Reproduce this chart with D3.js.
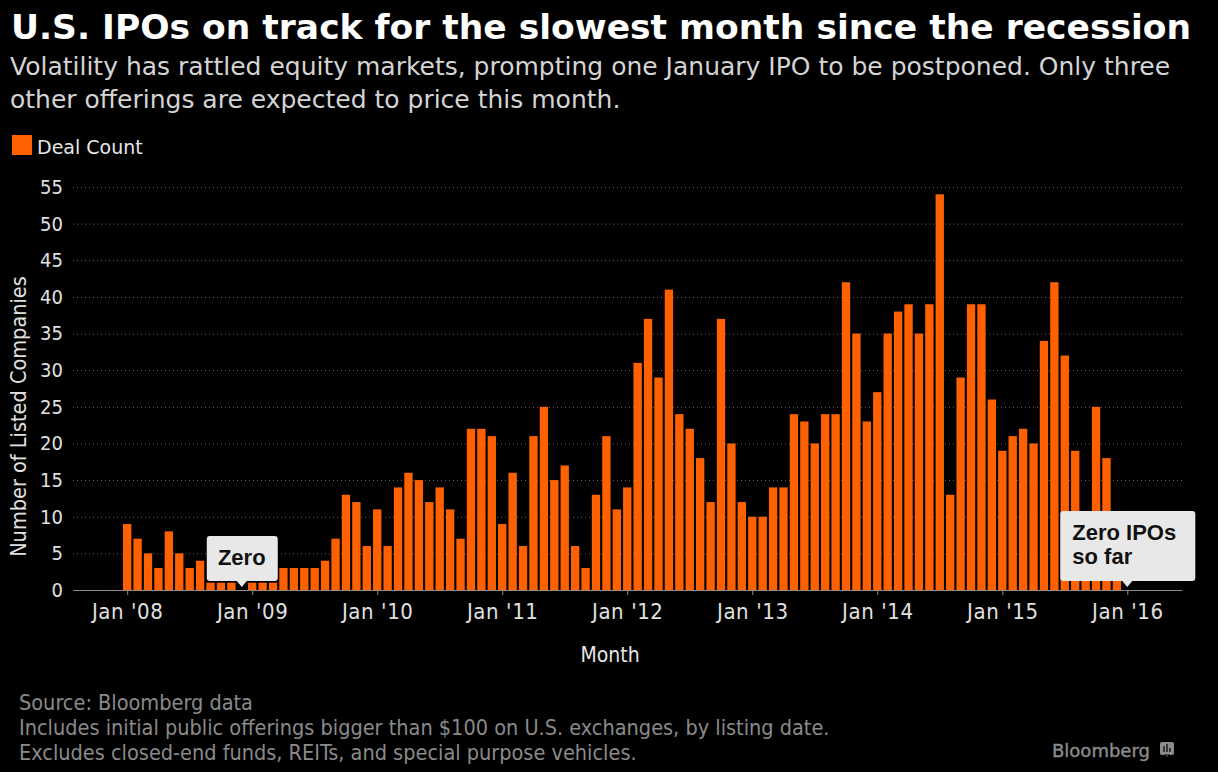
<!DOCTYPE html>
<html>
<head>
<meta charset="utf-8">
<script src="https://cdn.jsdelivr.net/npm/d3@7"></script>
<style>
    body { margin: 0; background: #000; overflow: hidden; }
    svg { display: block; }
</style>
</head>
<body>
<script>

const width = 1218;
const height = 772;

// monthly deal counts, Jan '08 .. Jan '16
const months = d3.range(97);
const dealCount = [
    9, 7, 5, 3, 8, 5, 3, 4, 1, 1, 1, 0,
    1, 1, 1, 3, 3, 3, 3, 4, 7, 13, 12, 6,
    11, 6, 14, 16, 15, 12, 14, 11, 7, 22, 22, 21,
    9, 16, 6, 21, 25, 15, 17, 6, 3, 13, 21, 11,
    14, 31, 37, 29, 41, 24, 22, 18, 12, 37, 20, 12,
    10, 10, 14, 14, 24, 23, 20, 24, 24, 42, 35, 23,
    27, 35, 38, 39, 35, 39, 54, 13, 29, 39, 39, 26,
    19, 21, 22, 20, 34, 42, 32, 19, 8, 25, 18, 7,
    0
];
const tickMonths = [0, 12, 24, 36, 48, 60, 72, 84, 96];
const tickLabels = ["Jan '08", "Jan '09", "Jan '10", "Jan '11", "Jan '12", "Jan '13", "Jan '14", "Jan '15", "Jan '16"];
const yTicks = [0, 5, 10, 15, 20, 25, 30, 35, 40, 45, 50, 55];

const subtitleLines = [
    "Volatility has rattled equity markets, prompting one January IPO to be postponed. Only three",
    "other offerings are expected to price this month."
];
const footLines = [
    "Source: Bloomberg data",
    "Includes initial public offerings bigger than $100 on U.S. exchanges, by listing date.",
    "Excludes closed-end funds, REITs, and special purpose vehicles."
];

const orange = '#ff6000';
const condensed = "'DejaVu Sans Condensed', 'DejaVu Sans', sans-serif";

let svg = d3.select('body').append('svg')
            .attr('width', width)
            .attr('height', height)
            .style('background', '#000');

// titles
svg.append('text')
    .attr('x', 11)
    .attr('y', 39)
    .attr('fill', '#fff')
    .style('font-family', "'DejaVu Sans', sans-serif")
    .style('font-weight', 'bold')
    .style('font-size', '34.5px')
    .text('U.S. IPOs on track for the slowest month since the recession');

svg.selectAll('.subtitle')
    .data(subtitleLines)
    .enter()
    .append('text')
    .attr('class', 'subtitle')
    .attr('x', 10)
    .attr('y', (d, i) => 75 + i * 33)
    .attr('fill', '#d4d4d4')
    .style('font-family', "'DejaVu Sans', sans-serif")
    .style('font-size', '25px')
    .text(d => d);

// legend
svg.append('rect')
    .attr('x', 12)
    .attr('y', 135)
    .attr('width', 20)
    .attr('height', 20)
    .attr('fill', orange);

svg.append('text')
    .attr('x', 37)
    .attr('y', 154)
    .attr('fill', '#e6e6e6')
    .style('font-family', "'DejaVu Sans', sans-serif")
    .style('font-size', '19px')
    .text('Deal Count');

// scales
const x = d3.scaleLinear()
            .domain([-5.2, 101.25])
            .range([73, 1182]);

const y = d3.scaleLinear()
            .domain([0, 55])
            .range([590, 187]);

const barW = (x(1) - x(0)) * 0.8;

// y axis + dotted grid
let yAxis = svg.append('g')
                .attr('transform', `translate(${x.range()[0]},0)`)
                .call(d3.axisLeft(y)
                        .tickValues(yTicks)
                        .tickSize(-(x.range()[1] - x.range()[0]))
                        .tickPadding(10));

yAxis.select('.domain').remove();
yAxis.selectAll('line')
    .attr('stroke', '#666')
    .attr('stroke-dasharray', '1,3');
yAxis.selectAll('text')
    .attr('fill', '#e0e0e0')
    .style('font-family', condensed)
    .style('font-size', '20px');

// bars
svg.append('g')
    .selectAll('rect')
    .data(months)
    .enter()
    .append('rect')
    .attr('x', d => x(d) - barW / 2)
    .attr('y', d => y(dealCount[d]))
    .attr('width', barW)
    .attr('height', d => y(0) - y(dealCount[d]))
    .attr('fill', orange);

// x axis
let xAxis = svg.append('g')
                .attr('transform', `translate(0,${y(0)})`)
                .call(d3.axisBottom(x)
                        .tickValues(tickMonths)
                        .tickFormat((d, i) => tickLabels[i])
                        .tickSizeInner(5)
                        .tickSizeOuter(0)
                        .tickPadding(8));

xAxis.select('.domain').attr('stroke', '#8a8a8a');
xAxis.selectAll('line').attr('stroke', '#8a8a8a');
xAxis.selectAll('text')
    .attr('fill', '#e0e0e0')
    .style('font-family', condensed)
    .style('font-size', '22px')
    .style('letter-spacing', '0.6px');

// axis titles
svg.append('text')
    .attr('transform', `translate(26,${(y(0) + y(55)) / 2 + 28}) rotate(-90)`)
    .attr('text-anchor', 'middle')
    .attr('fill', '#e0e0e0')
    .style('font-family', condensed)
    .style('font-size', '21.5px')
    .text('Number of Listed Companies');

svg.append('text')
    .attr('x', 610)
    .attr('y', 662)
    .attr('text-anchor', 'middle')
    .attr('fill', '#e6e6e6')
    .style('font-family', condensed)
    .style('font-size', '21px')
    .text('Month');

// callouts
function callout(month, w, h, dx, lines, anchor) {
    const px = x(month);
    const top = y(0) - 9 - h;
    const left = px - dx;
    let g = svg.append('g');
    g.append('path')
        .attr('d', `M${left + 3},${top} H${left + w - 3} Q${left + w},${top} ${left + w},${top + 3}
                    V${top + h - 3} Q${left + w},${top + h} ${left + w - 3},${top + h}
                    H${px + 5} L${px},${y(0) - 3} L${px - 5},${top + h}
                    H${left + 3} Q${left},${top + h} ${left},${top + h - 3}
                    V${top + 3} Q${left},${top} ${left + 3},${top} Z`)
        .attr('fill', '#e8e8e8');
    g.selectAll('text')
        .data(lines)
        .enter()
        .append('text')
        .attr('x', anchor === 'middle' ? px : left + 12)
        .attr('y', (d, i) => top + 29 + i * 24)
        .attr('text-anchor', anchor)
        .attr('fill', '#111')
        .style('font-family', "'Liberation Sans', Arial, sans-serif")
        .style('font-weight', 'bold')
        .style('font-size', '22px')
        .text(d => d);
}

callout(11, 71, 45, 35, ['Zero'], 'middle');
callout(96, 135, 70, 67, ['Zero IPOs', 'so far'], 'start');

// footnotes
svg.selectAll('.foot')
    .data(footLines)
    .enter()
    .append('text')
    .attr('class', 'foot')
    .attr('x', 19)
    .attr('y', (d, i) => 710 + i * 25)
    .attr('fill', '#8a8a8a')
    .style('font-family', condensed)
    .style('font-size', '21.5px')
    .text(d => d);

// bloomberg mark
svg.append('text')
    .attr('x', 1052)
    .attr('y', 757)
    .attr('fill', '#8c8c8c')
    .attr('stroke', '#8c8c8c')
    .attr('stroke-width', 0.4)
    .style('font-family', "'DejaVu Sans', sans-serif")
    .style('font-size', '18px')
    .text('Bloomberg');

svg.append('rect')
    .attr('x', 1160)
    .attr('y', 742)
    .attr('width', 14)
    .attr('height', 13)
    .attr('rx', 2)
    .attr('fill', '#8c8c8c');

svg.append('path')
    .attr('d', 'M1164,746 V752 M1167,744 V752 M1170,748 V752 M1165,755 L1167,758 L1169,755 Z')
    .attr('stroke', '#000')
    .attr('stroke-width', 1.2)
    .attr('fill', '#8c8c8c');

</script>
</body>
</html>
